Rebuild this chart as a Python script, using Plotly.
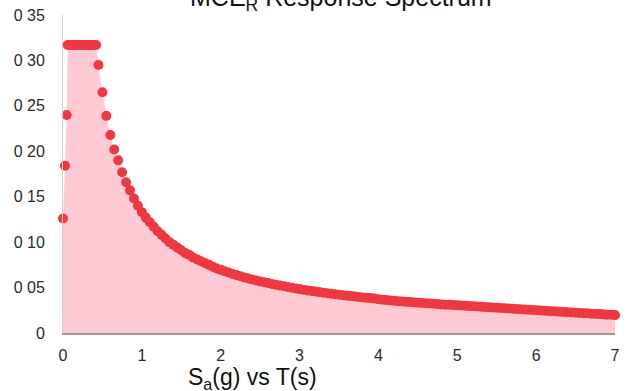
import plotly.graph_objects as go

# Period T (s) and spectral acceleration Sa (g)
period_s = [
    0.00, 0.025, 0.046,
    0.06, 0.09, 0.12, 0.15, 0.18, 0.21, 0.24, 0.27, 0.30, 0.33, 0.36, 0.39, 0.42,
    0.45, 0.50, 0.55, 0.60, 0.65, 0.70, 0.75, 0.80, 0.85, 0.90, 0.95,
    1.00, 1.05, 1.10, 1.15, 1.20, 1.25, 1.30, 1.35, 1.40, 1.45,
    1.50, 1.55, 1.60, 1.65, 1.70, 1.75, 1.80, 1.85, 1.90, 1.95,
    2.00, 2.05, 2.10, 2.15, 2.20, 2.25, 2.30, 2.35, 2.40, 2.45,
    2.50, 2.55, 2.60, 2.65, 2.70, 2.75, 2.80, 2.85, 2.90, 2.95,
    3.00, 3.05, 3.10, 3.15, 3.20, 3.25, 3.30, 3.35, 3.40, 3.45,
    3.50, 3.55, 3.60, 3.65, 3.70, 3.75, 3.80, 3.85, 3.90, 3.95,
    4.00, 4.05, 4.10, 4.15, 4.20, 4.25, 4.30, 4.35, 4.40, 4.45,
    4.50, 4.55, 4.60, 4.65, 4.70, 4.75, 4.80, 4.85, 4.90, 4.95,
    5.00, 5.05, 5.10, 5.15, 5.20, 5.25, 5.30, 5.35, 5.40, 5.45,
    5.50, 5.55, 5.60, 5.65, 5.70, 5.75, 5.80, 5.85, 5.90, 5.95,
    6.00, 6.05, 6.10, 6.15, 6.20, 6.25, 6.30, 6.35, 6.40, 6.45,
    6.50, 6.55, 6.60, 6.65, 6.70, 6.75, 6.80, 6.85, 6.90, 6.95,
    7.00,
]
sa_g = [
    0.126, 0.184, 0.240,
    0.317, 0.317, 0.317, 0.317, 0.317, 0.317, 0.317, 0.317, 0.317, 0.317, 0.317, 0.317, 0.317,
    0.295, 0.265, 0.239, 0.218, 0.202, 0.190, 0.177, 0.166, 0.157, 0.148, 0.140,
    0.133, 0.127, 0.122, 0.117, 0.112, 0.108, 0.104, 0.100, 0.097, 0.094,
    0.091, 0.088, 0.086, 0.083, 0.081, 0.079, 0.077, 0.075, 0.073, 0.071,
    0.0695, 0.068, 0.0665, 0.065, 0.0637, 0.0625, 0.0612, 0.060, 0.0589, 0.0578,
    0.0568, 0.0558, 0.0549, 0.054, 0.0531, 0.0522, 0.0514, 0.0506, 0.0498, 0.049,
    0.0483, 0.0476, 0.0469, 0.0462, 0.0456, 0.045, 0.0444, 0.0438, 0.0432, 0.0427,
    0.0421, 0.0416, 0.0411, 0.0406, 0.0401, 0.0397, 0.0392, 0.0388, 0.0384, 0.038,
    0.0372, 0.0366, 0.0362, 0.0358, 0.0354, 0.0350, 0.0347, 0.0343, 0.0340, 0.0336,
    0.0333, 0.0330, 0.0327, 0.0324, 0.0321, 0.0318, 0.0315, 0.0312, 0.0310, 0.0307,
    0.0305, 0.0302, 0.0299, 0.0296, 0.0294, 0.0291, 0.0288, 0.0285, 0.0283, 0.0280,
    0.0277, 0.0275, 0.0272, 0.0269, 0.0267, 0.0264, 0.0261, 0.0259, 0.0256, 0.0253,
    0.0250, 0.0248, 0.0245, 0.0242, 0.0240, 0.0237, 0.0234, 0.0232, 0.0229, 0.0226,
    0.0224, 0.0221, 0.0218, 0.0216, 0.0213, 0.0210, 0.0208, 0.0205, 0.0202, 0.0200,
    0.0197,
]

y_tick_vals = [0, 0.05, 0.10, 0.15, 0.20, 0.25, 0.30, 0.35]
y_tick_text = ["0", "0 05", "0 10", "0 15", "0 20", "0 25", "0 30", "0 35"]
x_tick_vals = [0, 1, 2, 3, 4, 5, 6, 7]
x_tick_text = ["0", "1", "2", "3", "4", "5", "6", "7"]

chart_title = "MCE<sub>R</sub> Response Spectrum"
x_title = "S<sub>a</sub>(g) vs T(s)"

FONT = "Liberation Sans, Arial, sans-serif"

fig = go.Figure()
fig.add_trace(go.Scatter(
    x=period_s, y=sa_g,
    mode="markers",
    fill="tozeroy",
    fillcolor="rgba(255,150,170,0.5)",
    line=dict(width=0, color="rgba(0,0,0,0)"),
    marker=dict(size=10, color="rgb(238,56,66)", line=dict(width=0)),
    cliponaxis=False,
    showlegend=False,
    hoverinfo="x+y",
))

fig.update_layout(
    width=627, height=391,
    margin=dict(l=63, r=7, t=15, b=58),
    paper_bgcolor="white",
    plot_bgcolor="white",
    font=dict(family=FONT, color="#333"),
    showlegend=False,
)
fig.update_xaxes(
    range=[0, 7],
    tickvals=x_tick_vals, ticktext=x_tick_text,
    tickfont=dict(size=16, color="#2a2a2a"),
    showgrid=False, zeroline=False,
    showline=True, linecolor="#9a9a9a", linewidth=1.5,
    ticks="", ticklabelstandoff=7,
)
fig.update_yaxes(
    range=[0, 0.35],
    tickvals=y_tick_vals, ticktext=y_tick_text,
    tickfont=dict(size=16, color="#2a2a2a"),
    showgrid=False, zeroline=False,
    showline=True, linecolor="#cfcfcf", linewidth=1,
    ticks="", ticklabelstandoff=14,
)

fig.add_annotation(
    text=chart_title, xref="paper", yref="paper",
    x=0.503, y=0.994, xanchor="center", yanchor="bottom",
    showarrow=False, font=dict(size=25, color="#111", family=FONT),
)
fig.add_annotation(
    text=x_title, xref="paper", yref="paper",
    x=0.343, y=-0.142, xanchor="center", yanchor="middle",
    showarrow=False, font=dict(size=23, color="#111", family=FONT),
)

fig.write_html("out.html")
